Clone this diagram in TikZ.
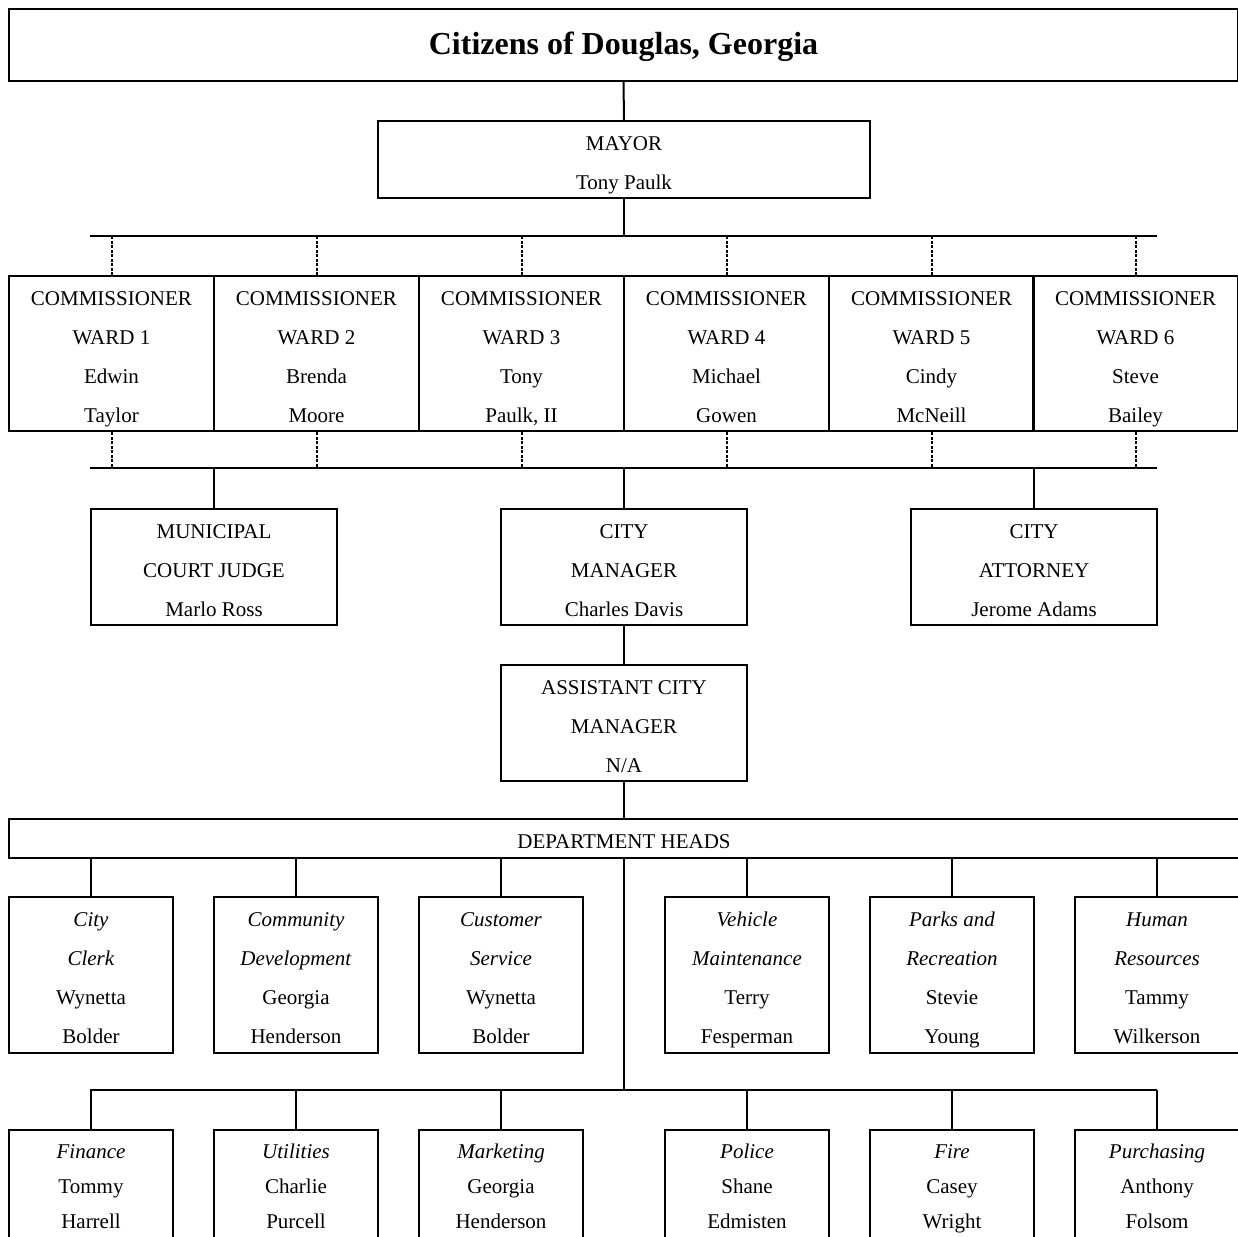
\documentclass[tikz,border=0pt]{standalone}
\usepackage{fontspec}
\setmainfont{Liberation Serif}
\usetikzlibrary{positioning}
\tikzstyle{box} = [rectangle, draw=black, line width=2pt, align=center, inner sep=0pt, anchor=north west, font=\fontsize{21}{39}\selectfont, text height=25pt, text depth=5pt]
\tikzstyle{ward} = [box, minimum width=205pt, minimum height=155pt, text height=142pt]
\tikzstyle{officer} = [box, minimum width=246pt, minimum height=116pt, text height=103pt]
\tikzstyle{dept} = [box, minimum width=164pt, minimum height=156pt, text height=142pt]
\tikzstyle{lowdept} = [box, minimum width=164pt, minimum height=116pt, font=\fontsize{21}{35}\selectfont, text height=86pt]
\tikzstyle{link} = [line width=2pt]
\tikzstyle{dashlink} = [line width=2pt, dash pattern=on 3pt off 1.5pt]

\begin{document}
\begin{tikzpicture}[x=1pt, y=-1pt]
    \useasboundingbox (0,0) rectangle (1238,1236);

    \node (citizens) [box, minimum width=1229pt, minimum height=72pt, font=\fontsize{32}{36}\selectfont\bfseries] at (8,8) {Citizens of Douglas, Georgia};
    \node (mayor) [box, minimum width=492pt, minimum height=77pt, text height=64pt] at (377,120) {MAYOR\\Tony Paulk};

    % commissioners
    \coordinate (topbarl) at (90,236);
    \coordinate (topbarr) at (1157,236);
    \node (ward1) [ward] at (8,275) {COMMISSIONER\\WARD 1\\Edwin\\Taylor};
    \node (ward2) [ward] at (213,275) {COMMISSIONER\\WARD 2\\Brenda\\Moore};
    \node (ward3) [ward] at (418,275) {COMMISSIONER\\WARD 3\\Tony\\Paulk, II};
    \node (ward4) [ward] at (623,275) {COMMISSIONER\\WARD 4\\Michael\\Gowen};
    \node (ward5) [ward] at (828,275) {COMMISSIONER\\WARD 5\\Cindy\\McNeill};
    \node (ward6) [ward] at (1032,275) {COMMISSIONER\\WARD 6\\Steve\\Bailey};
    \coordinate (lowbarl) at (90,468);
    \coordinate (lowbarr) at (1157,468);

    % appointed officers
    \node (judge) [officer] at (90,508) {MUNICIPAL\\COURT JUDGE\\Marlo Ross};
    \node (manager) [officer] at (500,508) {CITY\\MANAGER\\Charles Davis};
    \node (attorney) [officer] at (910,508) {CITY\\ATTORNEY\\Jerome Adams};
    \node (assistant) [officer] at (500,664) {ASSISTANT CITY\\MANAGER\\N/A};

    \node (heads) [box, minimum width=1230pt, minimum height=39pt] at (8,818) {DEPARTMENT HEADS};

    % departments, first row
    \node (clerk) [dept] at (8,896) {\textit{City}\\\textit{Clerk}\\Wynetta\\Bolder};
    \node (community) [dept] at (213,896) {\textit{Community}\\\textit{Development}\\Georgia\\Henderson};
    \node (service) [dept] at (418,896) {\textit{Customer}\\\textit{Service}\\Wynetta\\Bolder};
    \node (vehicle) [dept] at (664,896) {\textit{Vehicle}\\\textit{Maintenance}\\Terry\\Fesperman};
    \node (parks) [dept] at (869,896) {\textit{Parks and}\\\textit{Recreation}\\Stevie\\Young};
    \node (hr) [dept] at (1074,896) {\textit{Human}\\\textit{Resources}\\Tammy\\Wilkerson};

    % departments, second row
    \coordinate (deptbarl) at (90,1090);
    \coordinate (deptbarr) at (1157,1090);
    \node (finance) [lowdept] at (8,1129) {\textit{Finance}\\Tommy\\Harrell};
    \node (utilities) [lowdept] at (213,1129) {\textit{Utilities}\\Charlie\\Purcell};
    \node (marketing) [lowdept] at (418,1129) {\textit{Marketing}\\Georgia\\Henderson};
    \node (police) [lowdept] at (664,1129) {\textit{Police}\\Shane\\Edmisten};
    \node (fire) [lowdept] at (869,1129) {\textit{Fire}\\Casey\\Wright};
    \node (purchasing) [lowdept] at (1074,1129) {\textit{Purchasing}\\Anthony\\Folsom};

    \draw [link] (citizens.south) -- (mayor.north);
    \draw [link] (mayor.south) -- (mayor.south |- topbarl);
    \draw [link] (topbarl) -- (topbarr);
    \draw [dashlink] (ward1.north |- topbarl) -- (ward1.north);
    \draw [dashlink] (ward2.north |- topbarl) -- (ward2.north);
    \draw [dashlink] (ward3.north |- topbarl) -- (ward3.north);
    \draw [dashlink] (ward4.north |- topbarl) -- (ward4.north);
    \draw [dashlink] (ward5.north |- topbarl) -- (ward5.north);
    \draw [dashlink] (ward6.north |- topbarl) -- (ward6.north);
    \draw [dashlink] (ward1.south) -- (ward1.south |- lowbarl);
    \draw [dashlink] (ward2.south) -- (ward2.south |- lowbarl);
    \draw [dashlink] (ward3.south) -- (ward3.south |- lowbarl);
    \draw [dashlink] (ward4.south) -- (ward4.south |- lowbarl);
    \draw [dashlink] (ward5.south) -- (ward5.south |- lowbarl);
    \draw [dashlink] (ward6.south) -- (ward6.south |- lowbarl);
    \draw [link] (lowbarl) -- (lowbarr);

    \draw [link] (judge.north |- lowbarl) -- (judge.north);
    \draw [link] (manager.north |- lowbarl) -- (manager.north);
    \draw [link] (attorney.north |- lowbarl) -- (attorney.north);
    \draw [link] (manager.south) -- (assistant.north);
    \draw [link] (assistant.south) -- (heads.north);

    \draw [link] (clerk.north |- heads.south) -- (clerk.north);
    \draw [link] (community.north |- heads.south) -- (community.north);
    \draw [link] (service.north |- heads.south) -- (service.north);
    \draw [link] (vehicle.north |- heads.south) -- (vehicle.north);
    \draw [link] (parks.north |- heads.south) -- (parks.north);
    \draw [link] (hr.north |- heads.south) -- (hr.north);

    \draw [link] (heads.south) -- (heads.south |- deptbarl);
    \draw [link] (deptbarl) -- (deptbarr);
    \draw [link] (finance.north |- deptbarl) -- (finance.north);
    \draw [link] (utilities.north |- deptbarl) -- (utilities.north);
    \draw [link] (marketing.north |- deptbarl) -- (marketing.north);
    \draw [link] (police.north |- deptbarl) -- (police.north);
    \draw [link] (fire.north |- deptbarl) -- (fire.north);
    \draw [link] (purchasing.north |- deptbarl) -- (purchasing.north);
\end{tikzpicture}
\end{document}
